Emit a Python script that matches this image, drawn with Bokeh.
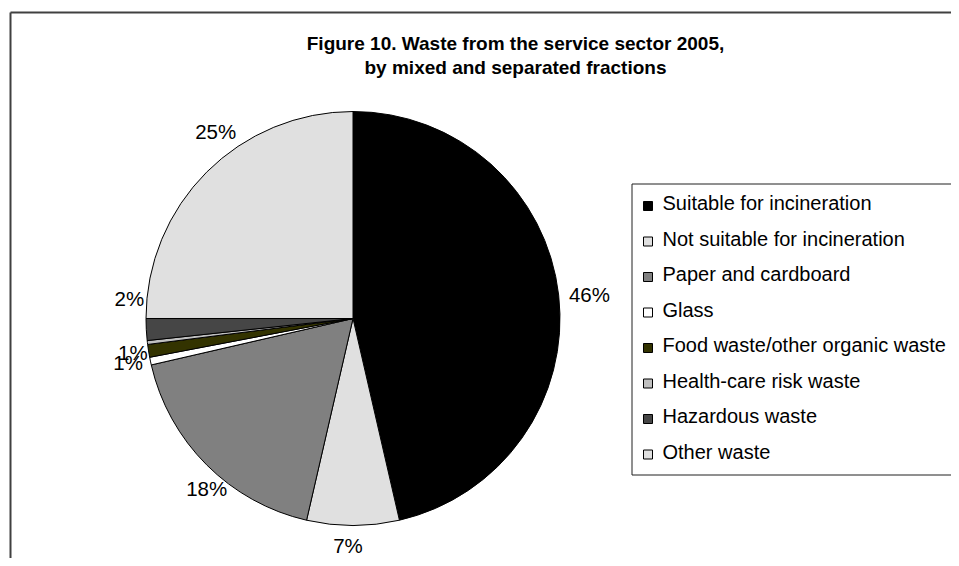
import math
from bokeh.plotting import figure
from bokeh.models import Range1d, ColumnDataSource
from bokeh.core.properties import value
from bokeh.embed import file_html
from bokeh.resources import INLINE

# ---- data ----
categories = ["Suitable for incineration", "Not suitable for incineration",
              "Paper and cardboard", "Glass", "Food waste/other organic waste",
              "Health-care risk waste", "Hazardous waste", "Other waste"]
shares = [46.4, 7.2, 17.8, 0.6, 1.0, 0.3, 1.7, 25.0]
labels = ["46%", "7%", "18%", "1%", "1%", "", "2%", "25%"]
colors = ["#000000", "#e0e0e0", "#808080", "#ffffff", "#333300", "#c0c0c0", "#464646", "#e0e0e0"]
title_lines = ["Figure 10. Waste from the service sector 2005,",
               "by mixed and separated fractions"]

# ---- layout (picture pixels -> data) ----
W, H = 951, 558
def X(px): return px
def Y(py): return H - py

FONT = "Liberation Sans"
p = figure(width=W, height=H, x_range=Range1d(0, W), y_range=Range1d(0, H),
           output_backend="svg", toolbar_location=None, min_border=0)
p.axis.visible = False
p.grid.visible = False
p.outline_line_color = None
p.background_fill_color = "white"
p.border_fill_color = "white"

# chart area border (left and top visible)
p.segment(x0=[X(10), X(10)], y0=[Y(12), Y(12)], x1=[X(10), X(1100)], y1=[Y(700), Y(12)],
          line_color="#404040", line_width=2)

# ---- pie ----
cx, cy, r = X(352.5), Y(318), 207
total = sum(shares)
starts, ends, mids = [], [], []
acc = 0.0
for s in shares:
    a0 = acc / total
    acc += s
    a1 = acc / total
    starts.append(math.pi / 2 - 2 * math.pi * a0)
    ends.append(math.pi / 2 - 2 * math.pi * a1)
    mids.append(2 * math.pi * (a0 + a1) / 2)   # clockwise from top

src = ColumnDataSource(dict(start=starts, end=ends, color=colors, cat=categories))
p.wedge(x=cx, y=cy, radius=r, start_angle="start", end_angle="end", direction="clock",
        fill_color="color", line_color="black", line_width=1, source=src)

# data labels placed along slice mid-angles, with small nudges (screen px)
R = 238
nudge = [(0, 3), (-5, -11), (22, 2), (8, -5), (15, -3), (0, 0), (14, -33), (31, -19)]
lx, ly, lt = [], [], []
for m, t, (ndx, ndy) in zip(mids, labels, nudge):
    if not t:
        continue
    lx.append(cx + R * math.sin(m) + ndx)
    ly.append(cy + R * math.cos(m) - ndy)
    lt.append(t)
p.text(x=lx, y=ly, text=lt, text_align="center", text_baseline="middle",
       text_font=value(FONT), text_font_size="20.5px", text_color="black")

# ---- title ----
p.text(x=[X(515), X(515)], y=[Y(43), Y(67)], text=title_lines,
       text_align="center", text_baseline="alphabetic",
       text_font=value(FONT), text_font_style="bold", text_font_size="19px",
       text_color="black")

# ---- legend ----
p.quad(left=X(631.5), right=X(1100), top=Y(183.5), bottom=Y(474.5),
       fill_color="white", line_color="#202020", line_width=1)
step = 35.5
ky = [Y(205.5 + i * step) for i in range(len(categories))]
p.scatter(x=[X(647.5)] * len(categories), y=ky, marker="square", size=9,
          fill_color=colors, line_color="black", line_width=1)
p.text(x=[X(662)] * len(categories), y=[v + 3 for v in ky], text=categories,
       text_align="left", text_baseline="middle",
       text_font=value(FONT), text_font_size="20px", text_color="black")

open("out.html", "w").write(file_html(p, INLINE))
